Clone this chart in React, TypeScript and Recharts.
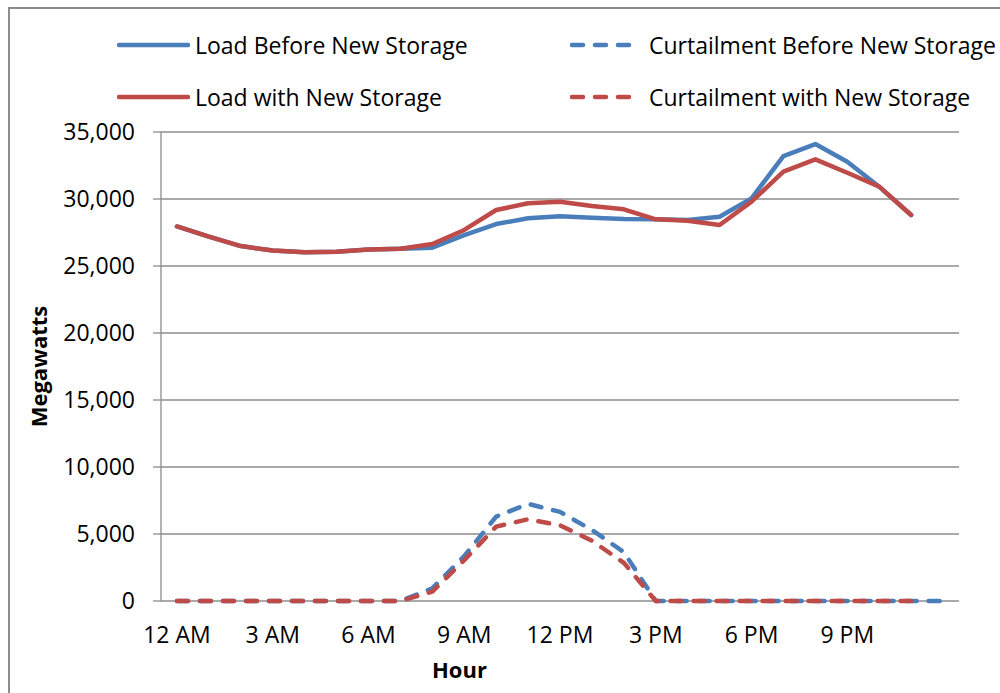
import React from 'react'
import { LineChart, Line, XAxis, YAxis, CartesianGrid, Label } from 'recharts'

// hour categories (the 25th slot is the unlabelled end of the day)
const HOURS = [
  '12 AM', '1 AM', '2 AM', '3 AM', '4 AM', '5 AM', '6 AM', '7 AM', '8 AM', '9 AM', '10 AM', '11 AM',
  '12 PM', '1 PM', '2 PM', '3 PM', '4 PM', '5 PM', '6 PM', '7 PM', '8 PM', '9 PM', '10 PM', '11 PM', '',
]
const LABEL_TICKS = [0, 3, 6, 9, 12, 15, 18, 21]
const Y_TICKS = [0, 5000, 10000, 15000, 20000, 25000, 30000, 35000]

const LOAD_BEFORE = [
  27950, 27190, 26490, 26150, 26020, 26070, 26240, 26290, 26370, 27300, 28130, 28560,
  28720, 28600, 28500, 28480, 28430, 28680, 30050, 33200, 34100, 32780, 30920, 28810,
]
const LOAD_WITH = [
  27950, 27190, 26490, 26150, 26020, 26070, 26240, 26290, 26640, 27690, 29180, 29680,
  29800, 29480, 29230, 28480, 28380, 28060, 29800, 32040, 32960, 31960, 30920, 28810,
]
const CURT_BEFORE = [
  0, 0, 0, 0, 0, 0, 0, 0, 950, 3350, 6300, 7250,
  6650, 5300, 3650, 0, 0, 0, 0, 0, 0, 0, 0, 0, 0,
]
const CURT_WITH = [
  0, 0, 0, 0, 0, 0, 0, 0, 700, 3050, 5550, 6100,
  5650, 4500, 2850, 0, 0, 0, 0, 0, 0, 0, 0, 0,
]

const FONT = '"Open Sans", sans-serif'
const BLUE = '#4a7ebb'
const RED = '#be4b48'
const GRID = '#8c8c8c'
const DASH = '11 12'
const LINE_W = 4.5

const SERIES = [
  { key: 'loadBefore', name: 'Load Before New Storage', color: BLUE, dashed: false },
  { key: 'loadWith', name: 'Load with New Storage', color: RED, dashed: false },
  { key: 'curtBefore', name: 'Curtailment Before New Storage', color: BLUE, dashed: true },
  { key: 'curtWith', name: 'Curtailment with New Storage', color: RED, dashed: true },
]

const data = HOURS.map((hour, i) => ({
  idx: i,
  hour,
  loadBefore: LOAD_BEFORE[i],
  loadWith: LOAD_WITH[i],
  curtBefore: CURT_BEFORE[i],
  curtWith: CURT_WITH[i],
}))

// tick marks sit between the categories, like Excel's default
const BOUNDS = [...HOURS.map((_, i) => i - 0.5), HOURS.length - 0.5]
const DOMAIN: [number, number] = [-0.5, HOURS.length - 0.5]

function ChartLegend() {
  const cols = [117, 570]
  const rows = [45, 97]
  return (
    <>
      {SERIES.map((s, i) => {
        const col = s.dashed ? 1 : 0
        const row = i % 2
        const w = s.dashed ? 65 : 73
        return (
          <div
            key={s.key}
            style={{
              position: 'absolute',
              left: cols[col],
              top: rows[row] - 16,
              height: 32,
              display: 'flex',
              alignItems: 'center',
              whiteSpace: 'nowrap',
              fontSize: 23,
              color: '#000',
            }}
          >
            <svg width={w} height={8} style={{ marginRight: s.dashed ? 14 : 5 }}>
              <line
                x1={2}
                x2={w - 2}
                y1={4}
                y2={4}
                stroke={s.color}
                strokeWidth={LINE_W}
                strokeLinecap="round"
                strokeDasharray={s.dashed ? DASH : undefined}
              />
            </svg>
            {s.name}
          </div>
        )
      })}
    </>
  )
}

export default function App() {
  return (
    <div
      style={{
        position: 'fixed',
        left: 0,
        top: 0,
        width: 1000,
        height: 693,
        overflow: 'hidden',
        background: '#fff',
        fontFamily: FONT,
      }}
    >
      <div
        style={{
          position: 'absolute',
          left: 8,
          top: 7,
          width: 1010,
          height: 710,
          border: `2px solid ${GRID}`,
          boxSizing: 'border-box',
        }}
      />
      <ChartLegend />
      <LineChart
        width={1000}
        height={693}
        data={data}
        margin={{ top: 132, right: 41, bottom: 0, left: 0 }}
        style={{ position: 'absolute', left: 0, top: 0 }}
      >
        <CartesianGrid vertical={false} stroke={GRID} strokeWidth={1.3} />
        <XAxis
          xAxisId={0}
          type="number"
          dataKey="idx"
          domain={DOMAIN}
          ticks={BOUNDS}
          tick={false}
          tickSize={8}
          height={0}
          stroke={GRID}
          strokeWidth={1.3}
        />
        <XAxis
          xAxisId="lbl"
          type="number"
          dataKey="idx"
          domain={DOMAIN}
          ticks={LABEL_TICKS}
          interval={0}
          tickFormatter={(v: number) => HOURS[v]}
          tickLine={false}
          axisLine={false}
          tickSize={0}
          tickMargin={26}
          height={92}
          tick={{ fill: '#000', fontSize: 23, fontFamily: FONT }}
        >
          <Label
            content={({ viewBox }: any) => (
              <text
                x={viewBox.x + viewBox.width * 0.374}
                y={viewBox.y + 77}
                textAnchor="middle"
                fontWeight="bold"
                fontSize={22}
                fontFamily={FONT}
                fill="#000"
              >
                Hour
              </text>
            )}
          />
        </XAxis>
        <YAxis
          domain={[0, 35000]}
          ticks={Y_TICKS}
          tickFormatter={(v: number) => v.toLocaleString('en-US')}
          width={161}
          tickSize={8}
          tickMargin={18}
          stroke={GRID}
          strokeWidth={1.3}
          tick={{ fill: '#000', fontSize: 23, fontFamily: FONT }}
        >
          <Label
            content={({ viewBox }: any) => {
              const cx = viewBox.x + 38
              const cy = viewBox.y + viewBox.height / 2
              return (
                <text
                  x={cx}
                  y={cy}
                  transform={`rotate(-90, ${cx}, ${cy})`}
                  textAnchor="middle"
                  dominantBaseline="central"
                  fontWeight="bold"
                  fontSize={22}
                  fontFamily={FONT}
                  fill="#000"
                >
                  Megawatts
                </text>
              )
            }}
          />
        </YAxis>
        {SERIES.map((s) => (
          <Line
            key={s.key}
            xAxisId="lbl"
            dataKey={s.key}
            name={s.name}
            stroke={s.color}
            strokeWidth={LINE_W}
            strokeLinecap="round"
            strokeLinejoin="round"
            strokeDasharray={s.dashed ? DASH : undefined}
            dot={false}
            activeDot={false}
            isAnimationActive={false}
          />
        ))}
      </LineChart>
    </div>
  )
}
